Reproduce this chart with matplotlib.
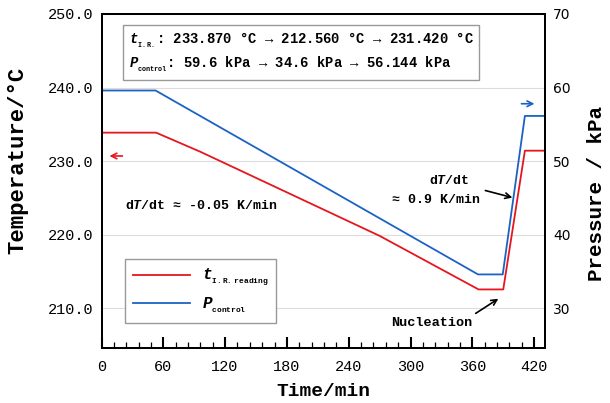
import matplotlib
matplotlib.use("Agg")
from matplotlib import pyplot as plt
from matplotlib.ticker import MultipleLocator, FormatStrFormatter

# temperature read by I.R. (deg C) and control pressure (kPa) vs time (min)
t_temp = [0, 53, 96, 270, 366, 390, 411, 430]
temp = [233.87, 233.87, 231.27, 219.84, 212.56, 212.56, 231.42, 231.42]
t_pres = [0, 52.5, 365.5, 389.5, 411, 430]
pres = [59.6, 59.6, 34.6, 34.6, 56.144, 56.144]

x_ticks = [0, 60, 120, 180, 240, 300, 360, 420]
temp_ticks = [210, 220, 230, 240, 250]
pres_ticks = [30, 40, 50, 60, 70]

MONO = ['Liberation Mono', 'DejaVu Sans Mono', 'DejaVu Sans']
plt.rcParams['font.family'] = MONO
plt.rcParams['mathtext.fontset'] = 'custom'
plt.rcParams['mathtext.rm'] = 'Liberation Mono:bold'
plt.rcParams['mathtext.it'] = 'Liberation Mono:italic:bold'
plt.rcParams['mathtext.bf'] = 'Liberation Mono:bold'

RED = '#e5161e'
BLUE = '#1c62c4'

fig = plt.figure(figsize=(6.1, 4.03), dpi=100)
ax = fig.add_axes([0.1664, 0.1365, 0.7270, 0.8288])
ax2 = ax.twinx()

l1, = ax.plot(t_temp, temp, color=RED, lw=1.3)
l2, = ax2.plot(t_pres, pres, color=BLUE, lw=1.3)

ax.set_xlim(0, 430.5)
ax.set_ylim(204.6, 250)
ax2.set_ylim(24.6, 70)

ax.set_xticks(x_ticks)
ax.xaxis.set_minor_locator(MultipleLocator(12))
ax.set_yticks(temp_ticks)
ax.yaxis.set_major_formatter(FormatStrFormatter('%.1f'))
ax2.set_yticks(pres_ticks)

ax.tick_params(axis='x', which='major', direction='in', length=8, width=1.5,
               pad=9, labelsize=11)
ax.tick_params(axis='x', which='minor', direction='in', length=4, width=0.9)
ax.tick_params(axis='y', length=0, pad=6, labelsize=11)
ax2.tick_params(axis='y', length=0, pad=6, labelsize=10)
for lab in ax2.get_yticklabels():
    lab.set_family('DejaVu Sans')

ax.grid(axis='y', color='#dddddd', lw=0.8)
ax.set_axisbelow(True)
for a in (ax, ax2):
    for s in a.spines.values():
        s.set_linewidth(1.4)

ax.set_xlabel('Time/min', fontsize=14, fontweight='bold')
ax.xaxis.set_label_coords(0.5, -0.105)
ax.set_ylabel('Temperature/°C', fontsize=16, fontweight='bold')
ax.yaxis.set_label_coords(-0.166, 0.561)
ax2.set_ylabel('Pressure / kPa', fontsize=15, fontweight='bold')
ax2.yaxis.set_label_coords(1.094, 0.464)

# summary box at the top (tiny subscripts via nested subscript)
box_txt = (r'$\mathit{t}_{{}_{\mathrm{I.R.}}}$: 233.870 °C → 212.560 °C → 231.420 °C' + '\n'
           r'$\mathit{P}_{{}_{\mathrm{control}}}$: 59.6 kPa → 34.6 kPa → 56.144 kPa')
ax2.text(0.061, 0.885, box_txt, transform=ax2.transAxes, fontsize=10,
         fontweight='bold', va='center', ha='left', linespacing=1.4,
         bbox=dict(boxstyle='square,pad=0.4', fc='white', ec='#999999', lw=1.0))

# axis direction arrows
ax.annotate('', xy=(5, 230.7), xytext=(23, 230.7),
            arrowprops=dict(arrowstyle='->', color=RED, lw=1.2))
ax.annotate('', xy=(423, 237.8), xytext=(405, 237.8),
            arrowprops=dict(arrowstyle='->', color=BLUE, lw=1.2))

ax.text(23, 224.0, r'd$\mathit{T}$/dt ≈ -0.05 K/min', fontsize=9.5,
        fontweight='bold', va='center', ha='left')
ax.text(338, 227.3, r'd$\mathit{T}$/dt', fontsize=9.5, fontweight='bold',
        va='center', ha='center')
ax.text(325, 224.7, '≈ 0.9 K/min', fontsize=9.5, fontweight='bold',
        va='center', ha='center')
ax.annotate('', xy=(401.5, 224.95), xytext=(370, 226.1),
            arrowprops=dict(arrowstyle='->', color='black', lw=1.2))

ax.text(320.5, 208.0, 'Nucleation', fontsize=9.7, fontweight='bold',
        va='center', ha='center')
ax.annotate('', xy=(387.5, 211.5), xytext=(361, 209.1),
            arrowprops=dict(arrowstyle='->', color='black', lw=1.2))

leg = ax2.legend([l1, l2],
                 [r'$\mathit{t}_{{}_{\mathrm{I.R.\ reading}}}$',
                  r'$\mathit{P}_{{}_{\mathrm{control}}}$'],
                 loc='lower left', bbox_to_anchor=(0.053, 0.075), fontsize=11.5,
                 handlelength=3.6, handletextpad=0.7, borderpad=0.5,
                 labelspacing=0.4, borderaxespad=0, fancybox=False,
                 framealpha=1, edgecolor='#999999')
leg.get_frame().set_linewidth(1.0)

fig.savefig('out.png', dpi=100)
